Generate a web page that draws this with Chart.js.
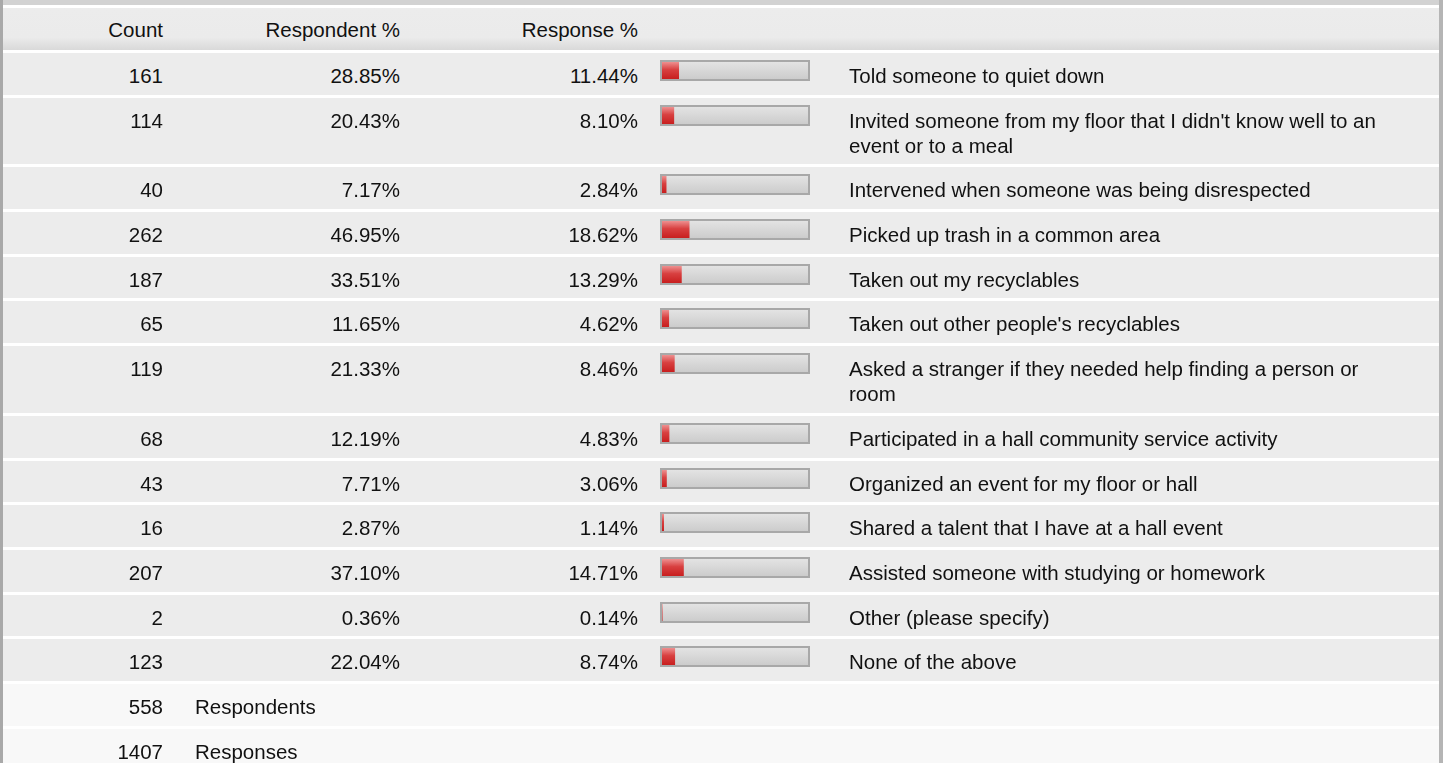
<!DOCTYPE html>
<html>
<head>
<meta charset="utf-8">
<script src="https://cdn.jsdelivr.net/npm/chart.js@4.4.1/dist/chart.umd.min.js"></script>
<style>
  html, body { margin: 0; padding: 0; background: #fff; }
  body { width: 1443px; height: 763px; overflow: hidden; font-family: Arial, "Liberation Sans", sans-serif; font-size: 20.5px; color: #111; }
  .frame { position: relative; width: 1436px; height: 763px; border-left: 3px solid #a9a9a9; border-right: 4px solid #b5b5b5; }
  .topband { height: 5px; background: #d2d2d2; margin-bottom: 3px; }
  .row { display: flex; background: #ececec; margin-bottom: 3px; line-height: 25px; }
  .row.head { height: 42px; align-items: center; background: linear-gradient(#ececec 0%, #ebebeb 70%, #d9d9d9 100%); }
  .row.data { padding-top: 10px; padding-bottom: 6.7px; }
  .row.total { background: #f8f8f8; padding-top: 10px; padding-bottom: 6.7px; }
  .c1 { width: 160px; text-align: right; }
  .c2 { width: 237px; text-align: right; }
  .c3 { width: 238px; text-align: right; }
  .c4 { width: 172px; padding-left: 22px; box-sizing: border-box; }
  .c5 { width: 540px; padding-left: 39px; }
  .tl { padding-left: 32px; }
  .bar { width: 146px; height: 17px; border: 2px solid #a8a8a8; margin-top: -3px; }
  .bar canvas { display: block; }
</style>
</head>
<body>
<div class="frame" id="frame">
  <div class="topband"></div>
</div>
<script>
const answers = [
  'Told someone to quiet down',
  "Invited someone from my floor that I didn't know well to an event or to a meal",
  'Intervened when someone was being disrespected',
  'Picked up trash in a common area',
  'Taken out my recyclables',
  "Taken out other people's recyclables",
  'Asked a stranger if they needed help finding a person or room',
  'Participated in a hall community service activity',
  'Organized an event for my floor or hall',
  'Shared a talent that I have at a hall event',
  'Assisted someone with studying or homework',
  'Other (please specify)',
  'None of the above'
];
const counts = [161, 114, 40, 262, 187, 65, 119, 68, 43, 16, 207, 2, 123];
const respondentPct = [28.85, 20.43, 7.17, 46.95, 33.51, 11.65, 21.33, 12.19, 7.71, 2.87, 37.10, 0.36, 22.04];
const responsePct = [11.44, 8.10, 2.84, 18.62, 13.29, 4.62, 8.46, 4.83, 3.06, 1.14, 14.71, 0.14, 8.74];
const headers = ['Count', 'Respondent %', 'Response %'];
const totals = [[558, 'Respondents'], [1407, 'Responses']];

const frame = document.getElementById('frame');

function makeElement(tag, props) {
  const el = document.createElement(tag);
  Object.assign(el, props || {});
  return el;
}

const head = makeElement('div', { className: 'row head' });
head.append(
  makeElement('div', { className: 'c1', innerText: headers[0] }),
  makeElement('div', { className: 'c2', innerText: headers[1] }),
  makeElement('div', { className: 'c3', innerText: headers[2] })
);
frame.append(head);

function redFill(ctx) {
  const area = ctx.chart.chartArea;
  if (!area) return '#cc2020';
  const g = ctx.chart.ctx.createLinearGradient(0, area.top, 0, area.bottom);
  g.addColorStop(0, '#ee9090');
  g.addColorStop(0.45, '#d84040');
  g.addColorStop(1, '#c81f1f');
  return g;
}

function greyFill(ctx) {
  const area = ctx.chart.chartArea;
  if (!area) return '#d8d8d8';
  const g = ctx.chart.ctx.createLinearGradient(0, area.top, 0, area.bottom);
  g.addColorStop(0, '#e3e3e3');
  g.addColorStop(1, '#cccccc');
  return g;
}

function drawBar(canvas, value) {
  new Chart(canvas, {
    type: 'bar',
    data: {
      labels: [''],
      datasets: [
        { data: [value], backgroundColor: redFill, order: 0, grouped: false,
          barPercentage: 1, categoryPercentage: 1, borderWidth: 0 },
        { data: [100], backgroundColor: greyFill, order: 1, grouped: false,
          barPercentage: 1, categoryPercentage: 1, borderWidth: 0 }
      ]
    },
    options: {
      indexAxis: 'y',
      responsive: false,
      animation: false,
      layout: { padding: 0 },
      plugins: { legend: { display: false }, tooltip: { enabled: false } },
      scales: {
        x: { display: false, min: 0, max: 100 },
        y: { display: false }
      }
    }
  });
}

answers.forEach((answer, i) => {
  const row = makeElement('div', { className: 'row data' });
  const barCell = makeElement('div', { className: 'c4' });
  const barBox = makeElement('div', { className: 'bar' });
  const canvas = makeElement('canvas', { width: 146, height: 17 });
  barBox.append(canvas);
  barCell.append(barBox);
  row.append(
    makeElement('div', { className: 'c1', innerText: counts[i] }),
    makeElement('div', { className: 'c2', innerText: respondentPct[i].toFixed(2) + '%' }),
    makeElement('div', { className: 'c3', innerText: responsePct[i].toFixed(2) + '%' }),
    barCell,
    makeElement('div', { className: 'c5', innerText: answer })
  );
  frame.append(row);
  drawBar(canvas, responsePct[i]);
});

totals.forEach(t => {
  const row = makeElement('div', { className: 'row total' });
  row.append(
    makeElement('div', { className: 'c1', innerText: t[0] }),
    makeElement('div', { className: 'tl', innerText: t[1] })
  );
  frame.append(row);
});
</script>
</body>
</html>
